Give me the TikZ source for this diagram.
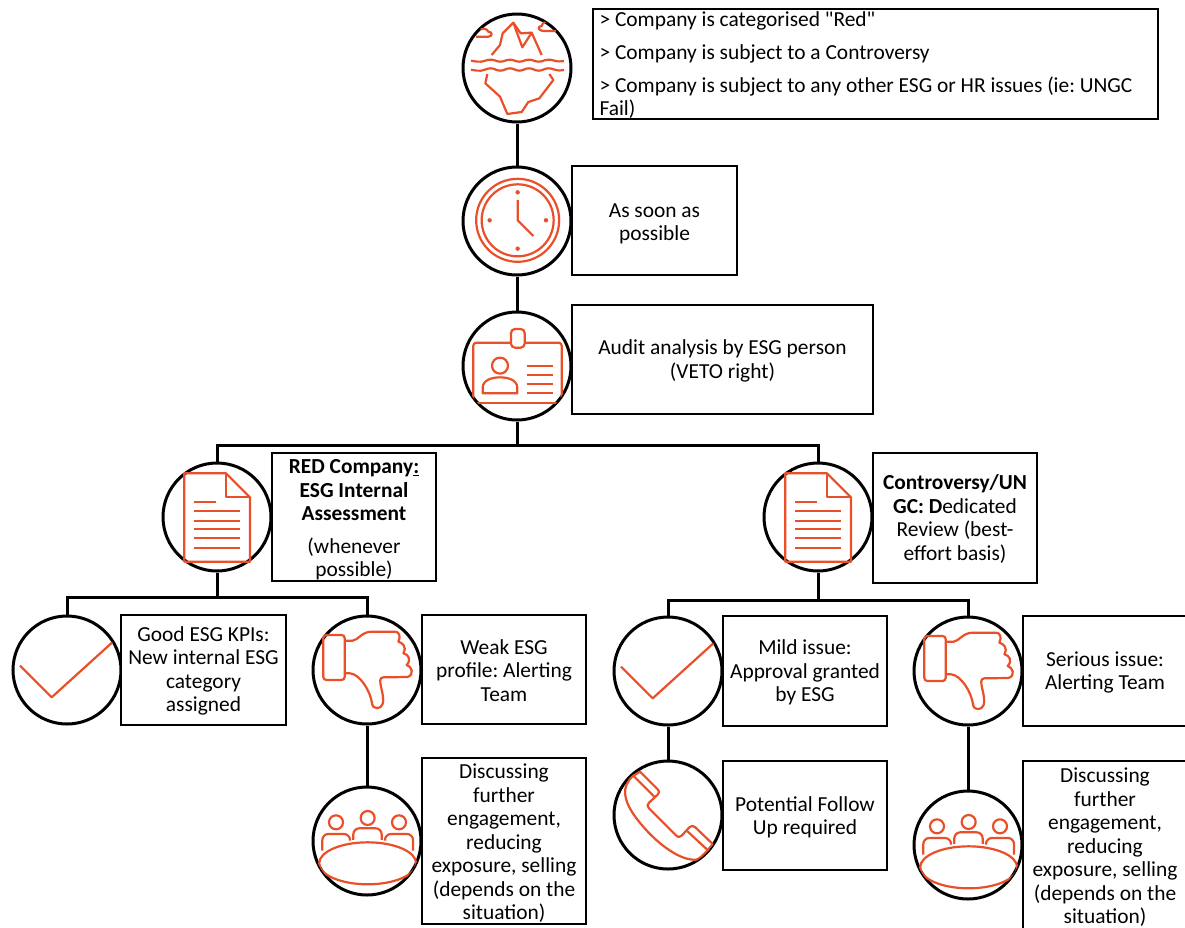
\documentclass[tikz,border=0pt]{standalone}
\usepackage{fontspec}
\setmainfont{Carlito}
\newfontfamily\plainq{Carlito}
\frenchspacing
\newcommand{\tp}[1]{\rule{0pt}{\dimexpr 15.6pt+#1pt+#1pt\relax}}
\definecolor{ico}{HTML}{E9502A}
\tikzset{
  x=1pt,y=-1pt,
  disc/.style={circle,draw=black,line width=3pt,fill=white,minimum size=108pt,inner sep=0pt},
  tbox/.style={draw=black,line width=1.6pt,fill=white,align=center,inner sep=0pt,font=\fontsize{21.4}{23.5}\selectfont},
  link/.style={draw=black,line width=3pt},
  icon/.style={draw=ico,line width=2.2pt,line join=round,line cap=butt},
}
\newcommand{\IcoDoc}{
  \draw[icon] (103,70)--(228,70)--(300,142)--(300,335)--(103,335)--cycle;
  \draw[icon] (228,70)--(228,142)--(300,142);
  \draw[icon] (132,157)--(198,157);
  \foreach \yy in {184,212,238,265,293} \draw[icon] (132,\yy)--(270,\yy);
}
\newcommand{\IcoThumb}{
  \draw[icon,rounded corners=3pt] (70,75)--(134,75)--(134,210)--(70,210)--cycle;
  \draw[icon] (134,92)--(158,92) .. controls (175,90) and (185,65) .. (215,65)--(285,65)
    .. controls (298,65) and (303,80) .. (295,95)
    .. controls (305,98) and (322,108) .. (310,130)
    .. controls (325,132) and (335,150) .. (320,165)
    .. controls (335,168) and (345,195) .. (322,201)--(250,202)
    .. controls (238,203) and (240,215) .. (243,230)
    .. controls (248,250) and (252,270) .. (248,282)
    .. controls (243,298) and (218,300) .. (216,280)
    .. controls (212,245) and (180,192) .. (150,190)--(134,190);
}
\newcommand{\IcoPeople}{
  \draw[icon] (108,637) circle[radius=7pt];
  \draw[icon] (203,624) circle[radius=7pt];
  \draw[icon] (297,637) circle[radius=7pt];
  \draw[icon,rounded corners=6pt] (67,722)--(67,672)--(150,672)--(150,692);
  \draw[icon,rounded corners=6pt] (160,690)--(160,655)--(245,655)--(245,690);
  \draw[icon,rounded corners=6pt] (255,692)--(255,672)--(339,672)--(339,722);
  \draw[icon] (203,760) ellipse[x radius=48.5pt,y radius=21pt];
}
\newcommand{\IcoCheck}{
  \draw[icon] (63,170)--(158,265)--(340,100);
}
\begin{document}
\begin{tikzpicture}
\useasboundingbox (0,0) rectangle (1185,927);
% junctions
\coordinate (j0) at (517,445);
\coordinate (j1) at (217,597);
\coordinate (j2) at (818,600);
% discs
\node[disc] (berg) at (517,68) {};
\node[disc] (clock) at (517,221) {};
\node[disc] (badge) at (517,366) {};
\node[disc] (docL) at (217,517) {};
\node[disc] (docR) at (818,517) {};
\node[disc] (okL) at (67,670) {};
\node[disc] (downL) at (367,670) {};
\node[disc] (meetL) at (367,841) {};
\node[disc] (okR) at (668,671) {};
\node[disc] (phone) at (668,815) {};
\node[disc] (downR) at (968,671) {};
\node[disc] (meetR) at (968,845) {};
% connectors
\draw[link] (berg.south)--(clock.north);
\draw[link] (clock.south)--(badge.north);
\draw[link] (badge.south)--(j0);
\draw[link] (j0)-|(docL.north);
\draw[link] (j0)-|(docR.north);
\draw[link] (docL.south)--(j1);
\draw[link] (j1)-|(okL.north);
\draw[link] (j1)-|(downL.north);
\draw[link] (downL.south)--(meetL.north);
\draw[link] (docR.south)--(j2);
\draw[link] (j2)-|(okR.north);
\draw[link] (j2)-|(downR.north);
\draw[link] (okR.south)--(phone.north);
\draw[link] (downR.south)--(meetR.north);
% boxes
\node[tbox,minimum width=565pt,minimum height=110pt,text width=552pt,align=flush left] (tTop) at (875.5,64)
  {\tp{.5}> Company is categorised {\plainq "}Red{\plainq "}\\[10pt]> Company is subject to a Controversy\\[9pt]> Company is subject to any other ESG or HR issues (ie: UNGC\\Fail)};
\node[tbox,minimum width=165pt,minimum height=109pt] (tSoon) at (654.5,220.5) {\tp{2.5}As soon as\\possible};
\node[tbox,minimum width=301pt,minimum height=109pt] (tAudit) at (722.5,359.5) {\tp{1}Audit analysis by ESG person\\(VETO right)};
\node[tbox,minimum width=164pt,minimum height=128pt] (tRed) at (354,517)
  {\tp{2}\textbf{RED Company\underline{:}}\\\textbf{ESG Internal}\\\textbf{Assessment}\\[9pt](whenever\\possible)};
\node[tbox,minimum width=164pt,minimum height=130pt] (tCon) at (955,518)
  {\tp{.5}\textbf{Controversy/UN}\\\textbf{GC: D}edicated\\Review (best-\\effort basis)};
\node[tbox,minimum width=165pt,minimum height=110pt] (tGood) at (203.5,670)
  {\tp{.5}Good ESG KPIs:\\New internal ESG\\category\\assigned};
\node[tbox,minimum width=164pt,minimum height=109pt] (tWeak) at (504,669.5)
  {\tp{.5}Weak ESG\\profile: Alerting\\Team};
\node[tbox,minimum width=164pt,minimum height=166pt] (tDiscL) at (504,841)
  {\tp{2}Discussing\\further\\engagement,\\reducing\\exposure, selling\\(depends on the\\situation)};
\node[tbox,minimum width=164pt,minimum height=110pt] (tMild) at (805,671)
  {\tp{1}Mild issue:\\Approval granted\\by ESG};
\node[tbox,minimum width=164pt,minimum height=109pt] (tFollow) at (805,815.5)
  {\tp{1.5}Potential Follow\\Up required};
\node[tbox,minimum width=164pt,minimum height=110pt] (tSerious) at (1105,671)
  {\tp{1}Serious issue:\\Alerting Team};
\node[tbox,minimum width=164pt,minimum height=168pt] (tDiscR) at (1105,845)
  {\tp{2}Discussing\\further\\engagement,\\reducing\\exposure, selling\\(depends on the\\situation)};
% icons
\begin{scope}
\clip (berg) circle[radius=54pt];
\begin{scope}[shift={(450,0)},x=.3333pt,y=-.3333pt]
  \draw[icon] (125,165)--(150,135)--(158,100)--(190,68)--(217,142)--(245,98)--(275,165);
  \draw[icon] (190,68)--(212,100)--(245,98);
  \draw[icon] plot[smooth,tension=.8] coordinates {(63,182)(92,185)(122,179)(151,185)(180,179)(208,185)(237,179)(266,185)(295,179)(322,184)(342,183)};
  \draw[icon] plot[smooth,tension=.8] coordinates {(63,209)(92,212)(122,205)(151,212)(180,205)(208,212)(237,205)(266,212)(295,205)(322,211)(342,210)};
  \draw[icon] (112,222)--(106,250)--(150,290)--(172,342)--(215,336)--(235,306)--(268,295)--(310,240)--(298,222);
  \draw[icon] (78,110)--(115,110) .. controls (128,110) and (128,95) .. (115,95) .. controls (110,85) and (100,85) .. (92,87);
  \draw[icon] (318,93)--(282,93) .. controls (262,92) and (262,78) .. (275,78) .. controls (278,68) and (285,65) .. (295,65);
\end{scope}
\end{scope}
\begin{scope}[shift={(450,0)},x=.3333pt,y=-.3333pt]
  \draw[icon] (203,661) circle[radius=41.5pt];
  \draw[icon] (203,661) circle[radius=36pt];
  \foreach \px/\py in {203/577,203/746,119/661,288/661} \fill[ico] (\px,\py) circle[radius=2.2pt];
  \draw[icon] (203,600)--(203,661)--(250,708);
\end{scope}
\begin{scope}
\clip (badge) circle[radius=54pt];
\begin{scope}[shift={(450,300)},x=.3333pt,y=-.3333pt]
  \draw[icon,rounded corners=3pt] (183,128)--(70,128)--(70,330);
  \draw[icon,rounded corners=3pt] (224,128)--(335,128)--(335,330);
  \draw[icon] (50,308)--(350,308);
  \draw[icon,rounded corners=4pt] (183,87) rectangle (224,143);
  \draw[icon] (150,197) circle[radius=8pt];
  \draw[icon] (98,280)--(98,262) .. controls (100,240) and (125,232) .. (150,232) .. controls (175,232) and (200,240) .. (202,262)--(202,280)--cycle;
  \foreach \yy in {198,226,253,278} \draw[icon] (230,\yy)--(310,\yy);
\end{scope}
\end{scope}
\begin{scope}[shift={(150,450)},x=.3333pt,y=-.3333pt]\IcoDoc\end{scope}
\begin{scope}[shift={(751,450)},x=.3333pt,y=-.3333pt]\IcoDoc\end{scope}
\begin{scope}[shift={(-1,609)},x=.3333pt,y=-.3333pt]\IcoCheck\end{scope}
\begin{scope}[shift={(600,610)},x=.3333pt,y=-.3333pt]\IcoCheck\end{scope}
\begin{scope}[shift={(300,610)},x=.3333pt,y=-.3333pt]\IcoThumb\end{scope}
\begin{scope}[shift={(901,611)},x=.3333pt,y=-.3333pt]\IcoThumb\end{scope}
\begin{scope}
\clip (meetL) circle[radius=54pt];
\begin{scope}[shift={(300,610)},x=.3333pt,y=-.3333pt]\IcoPeople\end{scope}
\end{scope}
\begin{scope}
\clip (meetR) circle[radius=54pt];
\begin{scope}[shift={(901,614)},x=.3333pt,y=-.3333pt]\IcoPeople\end{scope}
\end{scope}
\begin{scope}
\clip (phone) circle[radius=54pt];
\begin{scope}[shift={(600,610)},x=.3333pt,y=-.3333pt]
  \draw[icon] (100,497)--(120,485)--(172,537) .. controls (180,545) and (177,550) .. (172,555)--(147,578)
    .. controls (141,584) and (141,590) .. (147,595)--(228,676)
    .. controls (235,683) and (240,682) .. (246,676)--(268,652)
    .. controls (274,646) and (280,646) .. (286,652)--(338,702)--(320,725);
  \draw[icon] (100,497)--(165,562);
  \draw[icon] (258,660)--(325,722);
  \draw[icon] (100,497) .. controls (62,530) and (72,570) .. (100,612) .. controls (150,685) and (240,760) .. (295,748)--(320,725);
\end{scope}
\end{scope}
\end{tikzpicture}
\end{document}
